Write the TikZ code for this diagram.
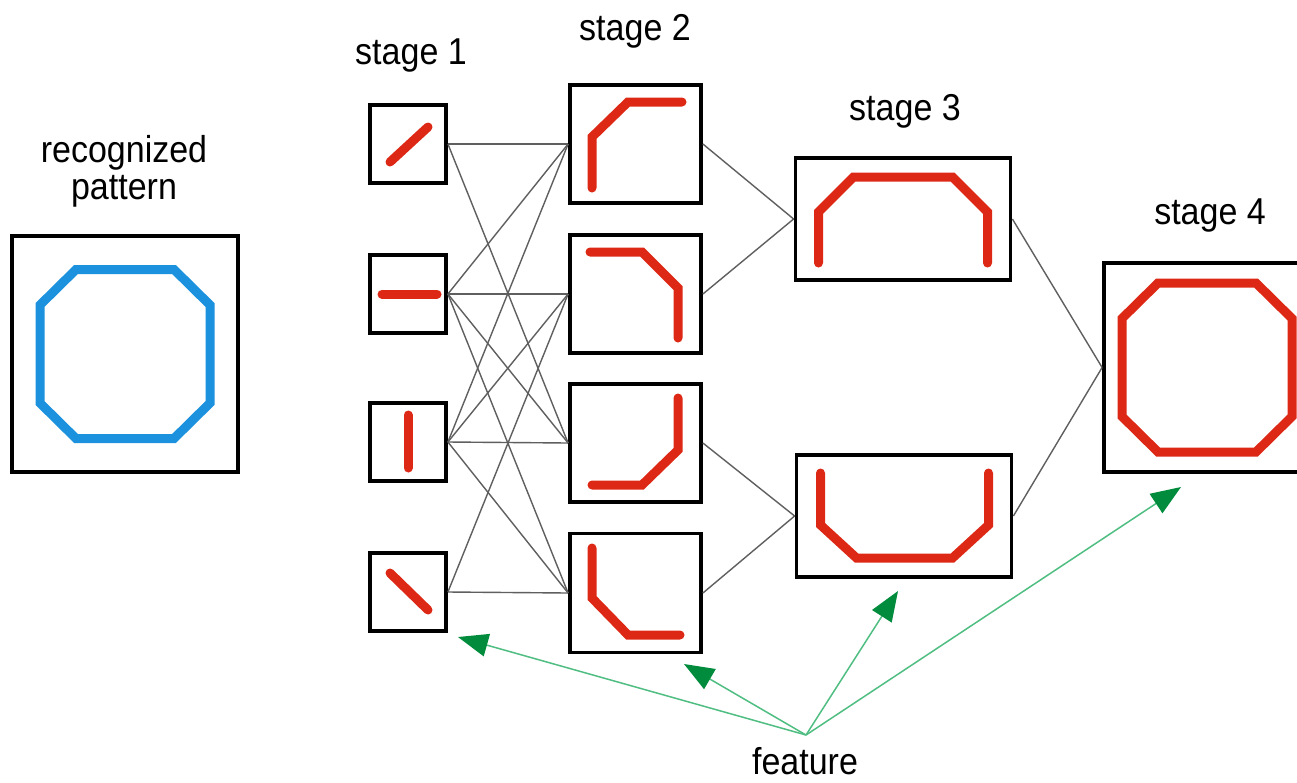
\documentclass[tikz,border=0pt]{standalone}
\usepackage{fontspec}
\setmainfont{Liberation Sans}
\usetikzlibrary{arrows.meta,calc}
\definecolor{shapered}{RGB}{221,40,22}
\definecolor{shapeblue}{RGB}{28,146,222}
\definecolor{arrowgreen}{RGB}{80,190,130}
\definecolor{headgreen}{RGB}{0,140,60}
\definecolor{conngray}{RGB}{95,95,95}
\begin{document}
\begin{tikzpicture}[x=1pt,y=-1pt,
  box/.style={draw=black, line width=3.8pt, inner sep=0pt},
  conn/.style={draw=conngray, line width=1.4pt},
  redline/.style={draw=shapered, line width=9pt, line cap=round, line join=miter},
  blueline/.style={draw=shapeblue, line width=9pt, line join=miter},
  featarrow/.style={draw=arrowgreen, line width=1.5pt,
    -{Triangle[length=30pt,width=23pt,color=headgreen]}},
  lbl/.style={anchor=base, inner sep=0pt, font=\fontsize{34}{40}\selectfont}]
\fill[white] (0,0) rectangle (1297,782);
\useasboundingbox (0,0) rectangle (1297,782);
\clip (0,0) rectangle (1297,782);

% labels
\node[lbl] (lrec) at (124,162) {\scalebox{1}[1.1]{recognized}};
\node[lbl] (lpat) at (124,199) {\scalebox{1}[1.1]{pattern}};
\node[lbl] (l1) at (411,64) {\scalebox{1}[1.1]{stage 1}};
\node[lbl] (l2) at (635,40) {\scalebox{1}[1.1]{stage 2}};
\node[lbl] (l3) at (905,120) {\scalebox{1}[1.1]{stage 3}};
\node[lbl] (l4) at (1210,224) {\scalebox{1}[1.1]{stage 4}};
\node[lbl] (lfeat) at (805,774) {\scalebox{1}[1.1]{feature}};

% boxes
\node[box, minimum width=226pt, minimum height=236pt] (rec) at (125,354) {};
\node[box, minimum width=76pt, minimum height=78pt] (s11) at (408,144) {};
\node[box, minimum width=76pt, minimum height=78pt] (s12) at (408,294) {};
\node[box, minimum width=76pt, minimum height=78pt] (s13) at (408,442) {};
\node[box, minimum width=76pt, minimum height=78pt] (s14) at (408,592) {};
\node[box, minimum width=131pt, minimum height=118pt] (s21) at (635.5,144) {};
\node[box, minimum width=131pt, minimum height=118pt] (s22) at (635.5,294) {};
\node[box, minimum width=131pt, minimum height=118pt] (s23) at (635.5,443) {};
\node[box, minimum width=131pt, minimum height=119pt] (s24) at (635.5,593) {};
\node[box, minimum width=215pt, minimum height=122pt] (s31) at (903,219) {};
\node[box, minimum width=215pt, minimum height=122pt] (s32) at (904,516) {};
\node[box, minimum width=206pt, minimum height=209pt] (s41) at (1207,367.5) {};

% connectors stage 1 -> stage 2
\draw[conn] (s11.east) -- (s21.west);
\draw[conn] (s11.east) -- (s23.west);
\draw[conn] (s12.east) -- (s21.west);
\draw[conn] (s12.east) -- (s22.west);
\draw[conn] (s12.east) -- (s23.west);
\draw[conn] (s12.east) -- (s24.west);
\draw[conn] (s13.east) -- (s21.west);
\draw[conn] (s13.east) -- (s22.west);
\draw[conn] (s13.east) -- (s23.west);
\draw[conn] (s13.east) -- (s24.west);
\draw[conn] (s14.east) -- (s22.west);
\draw[conn] (s14.east) -- (s24.west);
% stage 2 -> stage 3
\draw[conn] (s21.east) -- (s31.west);
\draw[conn] (s22.east) -- (s31.west);
\draw[conn] (s23.east) -- (s32.west);
\draw[conn] (s24.east) -- (s32.west);
% stage 3 -> stage 4
\draw[conn] (s31.east) -- (s41.west);
\draw[conn] (s32.east) -- (s41.west);

% recognized pattern (blue octagon)
\draw[blueline] ($(rec)+(-49,-84.5)$) -- ($(rec)+(49,-84.5)$) -- ($(rec)+(85,-49)$)
  -- ($(rec)+(85,49)$) -- ($(rec)+(49,84.5)$) -- ($(rec)+(-49,84.5)$)
  -- ($(rec)+(-85,49)$) -- ($(rec)+(-85,-49)$) -- cycle;

% stage 1 features
\draw[redline] ($(s11)+(-18,18)$) -- ($(s11)+(20,-17)$);
\draw[redline] ($(s12)+(-26,0)$) -- ($(s12)+(29,0)$);
\draw[redline] ($(s13)+(0,-27)$) -- ($(s13)+(0,26)$);
\draw[redline] ($(s14)+(-18,-19)$) -- ($(s14)+(20,18)$);

% stage 2 features
\draw[redline] ($(s21)+(-43.5,44)$) -- ($(s21)+(-43.5,-7)$) -- ($(s21)+(-7.5,-42)$) -- ($(s21)+(46.5,-42)$);
\draw[redline] ($(s22)+(-45.5,-42)$) -- ($(s22)+(6.5,-42)$) -- ($(s22)+(42.5,-6)$) -- ($(s22)+(42.5,44)$);
\draw[redline] ($(s23)+(42.5,-45)$) -- ($(s23)+(42.5,7)$) -- ($(s23)+(6.5,42)$) -- ($(s23)+(-43.5,42)$);
\draw[redline] ($(s24)+(-43.5,-45)$) -- ($(s24)+(-43.5,5)$) -- ($(s24)+(-7.5,42)$) -- ($(s24)+(44.5,42)$);

% stage 3 features
\draw[redline] ($(s31)+(-84.5,44)$) -- ($(s31)+(-84.5,-7)$) -- ($(s31)+(-49.5,-42)$)
  -- ($(s31)+(49.5,-42)$) -- ($(s31)+(84.5,-7)$) -- ($(s31)+(84.5,44)$);
\draw[redline] ($(s32)+(-83.5,-43)$) -- ($(s32)+(-83.5,9)$) -- ($(s32)+(-47.5,42)$)
  -- ($(s32)+(48.5,42)$) -- ($(s32)+(84.5,9)$) -- ($(s32)+(84.5,-43)$);

% stage 4 feature (red octagon)
\draw[redline, line cap=butt] ($(s41)+(-49,-84.5)$) -- ($(s41)+(49,-84.5)$) -- ($(s41)+(85,-49)$)
  -- ($(s41)+(85,49)$) -- ($(s41)+(49,84.5)$) -- ($(s41)+(-49,84.5)$)
  -- ($(s41)+(-85,49)$) -- ($(s41)+(-85,-49)$) -- cycle;

% feature arrows
\coordinate (f) at (806,735);
\coordinate (t1) at (458,637);
\coordinate (t2) at (684,664);
\coordinate (t3) at (898,591);
\coordinate (t4) at (1181,487);
\draw[featarrow] (f) -- (t1);
\draw[featarrow] (f) -- (t2);
\draw[featarrow] (f) -- (t3);
\draw[featarrow] (f) -- (t4);
\end{tikzpicture}
\end{document}
